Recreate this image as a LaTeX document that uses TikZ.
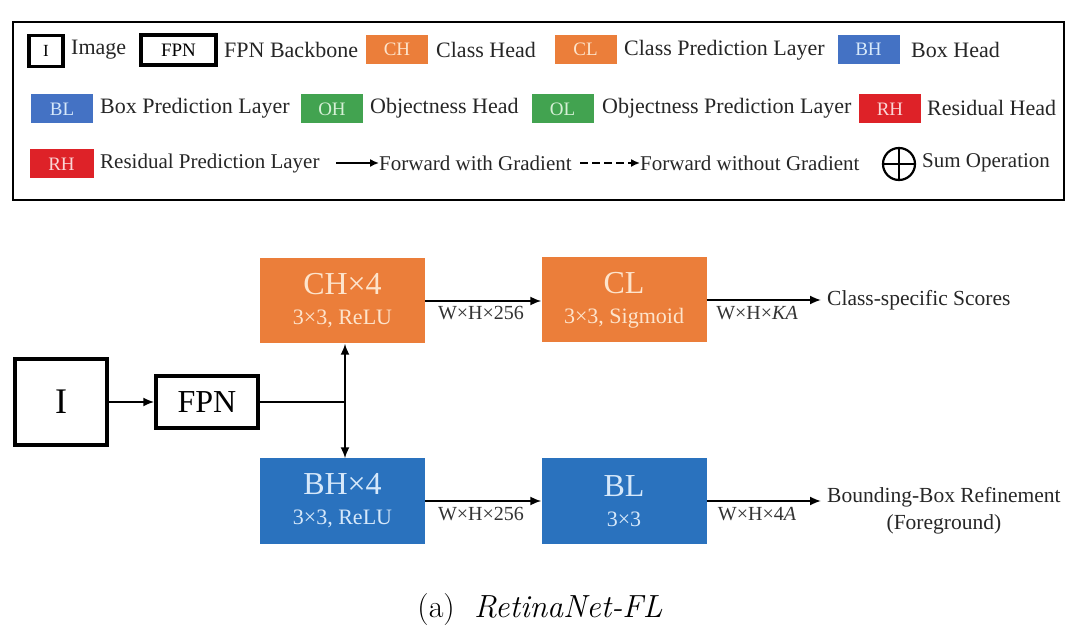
\documentclass[tikz,border=0pt]{standalone}
\usepackage{fontspec}
\newfontfamily\tnr{Liberation Serif}
\usetikzlibrary{arrows.meta,calc}
\definecolor{corange}{RGB}{235,126,58}
\definecolor{cblue}{RGB}{42,114,190}
\definecolor{lblue}{RGB}{68,114,196}
\definecolor{cgreen}{RGB}{66,163,80}
\definecolor{cred}{RGB}{222,34,40}
\definecolor{paleo}{RGB}{253,228,204}
\definecolor{paleb}{RGB}{214,232,250}
\definecolor{paleg}{RGB}{214,240,214}
\definecolor{paler}{RGB}{250,214,214}
\begin{document}
\begin{tikzpicture}[x=1pt,y=-1pt,
  lgtext/.style={font=\tnr\fontsize{22}{24}\selectfont, anchor=west, inner sep=0pt, text=black!85},
  lgtextb/.style={lgtext, font=\tnr\fontsize{21}{24}\selectfont},
  lgbox/.style={minimum width=62pt, minimum height=29pt, inner sep=0pt, font=\tnr\fontsize{19}{20}\selectfont},
  dbox/.style={minimum width=165pt, minimum height=85pt, inner sep=0pt, align=center, font=\tnr\fontsize{22}{30}\selectfont},
  dtext/.style={font=\tnr\fontsize{21.5}{27}\selectfont, text=black!85},
  lab/.style={font=\tnr\fontsize{20}{22}\selectfont, text=black!80, inner sep=0pt},
  arr/.style={line width=1.8pt, -{Latex[length=11pt,width=9pt]}},
  plain/.style={line width=1.8pt}
]
\useasboundingbox (0,0) rectangle (1080,644);

% ---------------- legend ----------------
\node[draw, line width=2.2pt, minimum width=1051pt, minimum height=178pt, inner sep=0pt] (frame) at (538.5,111) {};

% row 1
\node[lgbox, draw, line width=3.5pt, minimum width=34pt, minimum height=31pt, font=\tnr\fontsize{17}{18}\selectfont] (li) at (46,51) {I};
\node[lgtext] (lti) at (71,50) {Image};
\node[lgbox, draw, line width=3.5pt, minimum width=75pt, minimum height=30pt] (lfpn) at (178.5,50) {FPN};
\node[lgtext] (ltfpn) at (224,50) {FPN Backbone};
\node[lgbox, fill=corange, text=paleo] (lch) at (397,49.5) {CH};
\node[lgtext] (ltch) at (436,50) {Class Head};
\node[lgbox, fill=corange, text=paleo] (lcl) at (585.5,49.5) {CL};
\node[lgtext] (ltcl) at (624,50) {Class Prediction Layer};
\node[lgbox, fill=lblue, text=paleb] (lbh) at (868.5,49.5) {BH};
\node[lgtext] (ltbh) at (911,50) {Box Head};

% row 2
\node[lgbox, fill=lblue, text=paleb] (lbl) at (62,109) {BL};
\node[lgtext] (ltbl) at (100,108) {Box Prediction Layer};
\node[lgbox, fill=cgreen, text=paleg] (loh) at (332,109) {OH};
\node[lgtext] (ltoh) at (370,108) {Objectness Head};
\node[lgbox, fill=cgreen, text=paleg] (lol) at (562.5,109) {OL};
\node[lgtext] (ltol) at (602,108) {Objectness Prediction Layer};
\node[lgbox, fill=cred, text=paler] (lrh) at (890,109) {RH};
\node[lgtext] (ltrh) at (927,108) {Residual Head};

% row 3
\node[lgbox, fill=cred, text=paler, minimum width=64pt] (lrp) at (61.5,164) {RH};
\node[lgtextb] (ltrp) at (100,163) {Residual Prediction Layer};
\coordinate (la1) at (336,163);
\node[lgtextb] (ltfw) at (379,163) {Forward with Gradient};
\draw[line width=1.6pt, -{Latex[length=9pt,width=8pt]}] (la1) -- (ltfw.west);
\coordinate (la2) at (580,163);
\node[lgtextb] (ltfo) at (640,163) {Forward without Gradient};
\draw[line width=1.6pt, dashed, dash pattern=on 8pt off 4pt, -{Latex[length=9pt,width=8pt]}] (la2) -- (ltfo.west);
\node[circle, draw, line width=2.2pt, minimum size=32pt, inner sep=0pt,
  path picture={\draw[line width=2.2pt] (path picture bounding box.north) -- (path picture bounding box.south)
  (path picture bounding box.west) -- (path picture bounding box.east);}] (lsum) at (899,164) {};
\node[lgtextb] (ltsum) at (922,163) {Sum Operation};

% ---------------- diagram ----------------
\node[draw, line width=3.5pt, minimum width=92pt, minimum height=86pt, inner sep=0pt, font=\tnr\fontsize{36}{38}\selectfont] (img) at (61,402) {I};
\node[draw, line width=3.5pt, minimum width=102pt, minimum height=52pt, inner sep=0pt, font=\tnr\fontsize{32}{34}\selectfont] (fpn) at (207,402) {FPN};

\node[dbox, fill=corange, text=paleo] (ch) at (342.5,301) {{\fontsize{32}{32}\selectfont CH×4}\\3×3, ReLU};
\node[dbox, fill=corange, text=paleo] (cl) at (624,300) {{\fontsize{32}{32}\selectfont CL}\\3×3, Sigmoid};
\node[dbox, fill=cblue, text=paleb] (bh) at (342.5,501) {{\fontsize{32}{32}\selectfont BH×4}\\3×3, ReLU};
\node[dbox, fill=cblue, text=paleb] (bl) at (624,501) {{\fontsize{32}{32}\selectfont BL}\\3×3};

\coordinate (j) at (345,402);
\draw[arr] (img.east) -- (fpn.west);
\draw[plain] (fpn.east) -- (j);
\draw[arr] (j) -- (j |- ch.south);
\draw[arr] (j) -- (j |- bh.north);

\draw[arr] (ch.east) -- (ch.east -| cl.west);
\draw[arr] (bh.east) -- (bh.east -| bl.west);

\node[dtext, anchor=west, inner xsep=6pt, inner ysep=0pt] (cs) at (821,300) {Class-specific Scores};
\node[dtext, anchor=west, inner xsep=6pt, inner ysep=0pt, align=center] (bb) at (821,511) {Bounding-Box Refinement\\(Foreground)};
\draw[arr] (cl.east) -- (cl.east -| cs.west);
\draw[arr] (bl.east) -- (bl.east -| bb.west);

\node[lab, anchor=north] (l1) at (481,306) {W×H×256};
\node[lab, anchor=north] (l2) at (757,306) {W×H×{\itshape KA}};
\node[lab, anchor=north] (l3) at (481,507) {W×H×256};
\node[lab, anchor=north] (l4) at (757,507) {W×H×4{\itshape A}};

\node (cap) at (540,610) {\fontsize{32}{34}\selectfont (a)\hspace{0.6em}\textit{RetinaNet-FL}};
\end{tikzpicture}
\end{document}
